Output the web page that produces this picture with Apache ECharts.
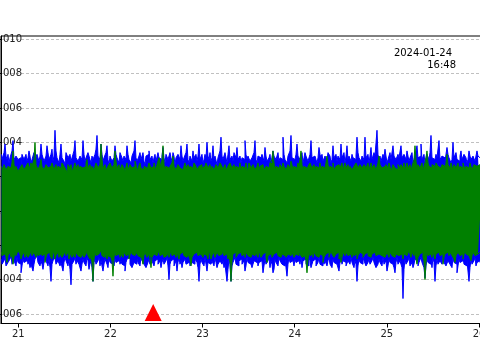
<!DOCTYPE html>
<html>
<head>
<meta charset="utf-8">
<script src="https://cdn.jsdelivr.net/npm/echarts@6/dist/echarts.min.js"></script>
<style>html,body{margin:0;padding:0;background:#fff;}#c{width:480px;height:360px;}</style>
</head>
<body>
<div id="c"></div>
<script>
// Envelope values, in units of 1e-4
const UNIT = 1e-4;
const BLUE_TOP = [
33,30,31,34,39,32,30,33,28,31,32,35,41,30,29,32,33,30,30,31,27,33,34,30,31,33,29,31,35,32,28,30,32,34,30,29,33,31,29,32,
39,33,31,29,28,32,38,34,30,31,33,36,29,32,47,35,31,30,28,33,39,31,32,29,27,34,34,31,30,33,29,30,33,35,41,31,30,29,28,32,
32,30,41,33,29,31,31,34,35,30,28,32,30,29,33,36,44,32,31,30,39,33,29,31,32,34,38,30,27,32,33,29,30,31,38,33,31,30,28,34,
34,31,29,32,31,30,38,33,30,29,28,32,33,35,41,31,29,30,32,34,30,31,34,29,27,32,31,33,35,30,30,32,28,31,33,29,29,34,31,30,
30,32,37,31,28,33,32,30,29,34,31,29,34,32,27,31,30,33,33,30,38,32,29,31,31,34,39,30,28,32,32,29,35,31,30,33,29,32,39,30,
31,33,28,30,33,31,40,32,30,34,29,31,38,30,32,33,27,31,31,35,43,32,30,29,34,31,28,33,38,30,31,32,29,34,33,31,37,30,30,32,
28,31,32,30,41,33,30,32,33,29,29,31,31,34,41,30,28,32,32,31,30,33,34,29,37,32,29,30,31,33,28,31,35,32,33,30,30,34,29,31,
32,30,43,33,30,31,28,32,33,35,44,31,31,30,29,33,39,32,32,30,30,34,28,31,34,32,31,29,29,33,41,31,30,32,33,30,28,31,37,33,
31,33,29,30,32,31,30,34,34,32,28,30,38,31,31,33,29,32,33,30,39,31,30,34,28,32,38,30,32,31,29,33,31,30,30,32,43,34,31,30,
29,32,33,30,43,31,30,33,28,32,37,30,31,34,32,31,47,33,30,32,29,30,33,31,36,32,28,30,31,34,30,31,38,32,32,30,29,33,31,32,
38,31,30,33,33,30,35,32,29,31,31,34,28,30,32,33,38,31,30,32,39,30,31,33,28,31,33,32,30,34,44,31,32,30,29,33,31,32,41,30,
30,32,33,31,29,30,37,33,31,32,28,30,40,31,32,34,30,31,29,32,35,30,31,33,33,31,28,30,35,32,30,31,32,33,29,30,35,32,31,33
];
const BLUE_BOTTOM = [
-28,-31,-30,-29,-27,-32,-31,-30,-29,-28,-26,-31,-30,-29,-28,-32,-27,-30,-29,-31,-36,-32,-28,-30,-30,-29,-27,-31,-29,-33,-31,-30,-35,-31,-28,-29,-26,-30,-30,-32,
-29,-31,-34,-30,-27,-29,-30,-32,-28,-33,-41,-31,-29,-30,-27,-31,-31,-29,-28,-32,-30,-31,-35,-30,-27,-29,-29,-32,-28,-34,-43,-31,-30,-29,-27,-31,-29,-30,-31,-32,
-35,-31,-28,-30,-30,-32,-27,-29,-34,-31,-29,-33,-41,-30,-28,-31,-30,-29,-27,-32,-29,-30,-35,-31,-28,-29,-31,-33,-27,-30,-30,-31,-29,-32,-28,-30,-31,-29,-27,-31,
-29,-31,-30,-32,-35,-30,-28,-29,-27,-31,-30,-33,-33,-30,-29,-31,-28,-30,-31,-32,-27,-29,-29,-31,-30,-33,-34,-30,-28,-31,-27,-29,-30,-32,-29,-30,-28,-31,-31,-29,
-33,-30,-28,-31,-30,-29,-27,-32,-40,-31,-29,-30,-28,-32,-31,-29,-35,-30,-27,-31,-29,-33,-30,-29,-28,-31,-31,-30,-27,-32,-33,-30,-29,-31,-28,-29,-30,-33,-41,-31,
-28,-30,-30,-32,-27,-31,-35,-30,-29,-31,-31,-29,-28,-32,-27,-30,-33,-31,-30,-29,-28,-31,-29,-33,-31,-30,-41,-34,-28,-31,-41,-32,-30,-29,-27,-31,-30,-32,-29,-30,
-28,-31,-31,-29,-35,-32,-27,-30,-29,-31,-30,-33,-31,-29,-28,-30,-27,-32,-30,-31,-29,-30,-36,-32,-28,-31,-30,-29,-27,-33,-29,-31,-36,-34,-28,-30,-31,-32,-27,-29,
-29,-31,-30,-32,-28,-33,-38,-31,-27,-30,-31,-29,-29,-32,-28,-30,-31,-29,-30,-31,-27,-33,-29,-30,-28,-31,-30,-32,-27,-29,-33,-31,-29,-30,-28,-32,-31,-30,-27,-31,
-30,-32,-28,-31,-29,-30,-32,-29,-27,-31,-30,-33,-28,-30,-29,-31,-31,-32,-35,-30,-27,-31,-29,-30,-30,-32,-32,-29,-28,-31,-27,-30,-30,-33,-29,-31,-41,-32,-28,-30,
-30,-31,-27,-29,-29,-32,-33,-30,-28,-31,-31,-29,-27,-30,-30,-33,-34,-31,-28,-30,-29,-32,-27,-31,-30,-29,-35,-32,-28,-30,-29,-31,-31,-33,-36,-30,-27,-31,-30,-29,
-29,-33,-51,-34,-28,-31,-30,-29,-27,-32,-31,-30,-33,-31,-28,-29,-29,-32,-30,-31,-27,-30,-31,-33,-39,-32,-28,-30,-30,-31,-29,-33,-27,-30,-41,-32,-28,-31,-30,-29,
-29,-31,-27,-30,-31,-32,-33,-29,-28,-31,-30,-33,-27,-30,-29,-31,-36,-32,-28,-30,-30,-29,-27,-31,-31,-32,-29,-30,-41,-33,-28,-31,-30,-29,-27,-32,-30,-31,-29,-30
];
const GREEN_TOP = [
26,25,24,27,28,24,23,26,27,25,25,28,35,27,24,26,26,23,22,25,25,27,27,24,23,26,26,28,24,25,28,26,25,30,40,27,26,24,24,27,
30,26,25,24,23,27,27,25,24,26,26,28,28,24,25,27,23,26,27,25,24,28,29,26,25,24,22,27,26,25,27,23,24,26,28,25,25,27,23,26,
27,25,24,26,26,28,30,25,25,27,23,26,27,24,26,28,29,25,24,27,39,30,25,26,27,24,23,26,26,28,28,25,24,27,35,29,25,26,27,24,
24,27,26,25,23,26,28,24,25,27,27,25,24,26,29,27,23,25,26,28,25,24,24,26,27,25,23,26,28,27,25,24,26,28,24,25,27,26,31,28,
25,30,38,27,24,26,27,25,23,26,26,28,32,26,25,24,24,27,27,25,26,24,23,26,28,25,25,27,24,26,27,25,25,28,29,26,24,25,26,27,
27,25,24,26,26,28,28,25,25,27,23,26,27,24,24,27,26,25,25,28,29,26,24,25,27,24,23,26,26,28,28,25,25,27,24,26,27,25,25,28,
24,26,27,25,26,28,23,25,28,27,25,24,27,26,24,25,26,28,23,26,25,27,28,24,24,26,26,25,25,28,27,30,35,28,24,26,26,25,23,27,
27,25,28,26,25,24,23,27,26,25,29,27,24,26,27,25,25,28,26,30,35,27,24,26,27,25,23,26,26,28,28,25,25,27,24,26,27,25,26,28,
24,26,27,25,25,28,32,27,24,26,26,25,28,24,23,26,25,27,27,25,26,28,24,26,28,25,25,27,23,26,27,24,24,26,26,28,28,25,25,27,
26,25,24,27,27,25,25,28,23,26,28,25,25,27,26,24,24,28,32,27,27,25,25,26,24,27,26,25,28,26,23,25,27,28,25,26,24,27,26,25,
27,26,25,28,24,26,28,25,26,27,23,26,27,30,38,29,25,27,27,25,26,28,24,26,28,31,35,28,26,25,25,27,27,26,24,28,29,26,26,25,
25,27,27,26,24,28,33,27,26,25,28,26,24,27,27,25,25,28,23,26,26,25,28,27,24,26,27,25,25,28,26,24,24,27,28,26,25,27,27,25
];
const GREEN_BOTTOM = [
-24,-26,-26,-25,-23,-27,-30,-26,-25,-24,-27,-25,-31,-27,-24,-26,-26,-23,-23,-25,-28,-26,-25,-24,-27,-25,-24,-27,-26,-25,-23,-26,-27,-24,-25,-27,-24,-26,-26,-25,
-23,-26,-27,-25,-30,-27,-25,-24,-24,-26,-26,-28,-23,-25,-28,-26,-25,-24,-27,-25,-24,-27,-26,-25,-23,-26,-25,-24,-28,-26,-24,-27,-26,-25,-27,-24,-23,-26,-25,-27,
-26,-25,-24,-27,-27,-25,-23,-26,-25,-28,-26,-30,-41,-28,-24,-26,-27,-25,-25,-24,-23,-26,-26,-27,-24,-25,-28,-26,-25,-27,-27,-29,-38,-27,-24,-26,-26,-25,-23,-27,
-25,-26,-27,-24,-24,-26,-26,-25,-28,-27,-23,-25,-25,-26,-27,-24,-24,-26,-26,-27,-25,-28,-31,-26,-24,-25,-27,-26,-25,-28,-33,-27,-26,-25,-24,-26,-27,-25,-23,-26,
-26,-25,-24,-27,-28,-26,-25,-24,-27,-25,-23,-26,-26,-25,-25,-27,-24,-26,-28,-25,-26,-24,-23,-26,-25,-27,-27,-25,-24,-28,-32,-27,-26,-25,-25,-24,-23,-26,-27,-25,
-25,-26,-27,-25,-24,-26,-26,-28,-23,-25,-28,-26,-25,-24,-27,-26,-24,-25,-26,-27,-25,-24,-23,-26,-27,-25,-24,-28,-26,-30,-41,-29,-25,-26,-24,-27,-27,-25,-26,-24,
-24,-26,-26,-25,-27,-24,-23,-26,-25,-27,-28,-25,-24,-26,-26,-24,-25,-27,-23,-25,-27,-26,-25,-24,-24,-27,-30,-26,-26,-25,-23,-27,-27,-25,-25,-24,-24,-26,-26,-27,
-27,-25,-25,-26,-23,-27,-28,-25,-24,-26,-26,-24,-25,-27,-27,-25,-24,-26,-23,-25,-26,-27,-28,-26,-25,-29,-36,-28,-24,-26,-26,-25,-27,-24,-23,-26,-25,-27,-26,-25,
-24,-26,-30,-27,-26,-25,-25,-24,-27,-26,-23,-25,-24,-27,-26,-25,-25,-24,-28,-26,-30,-27,-24,-25,-26,-24,-23,-26,-27,-25,-25,-27,-24,-26,-26,-25,-28,-26,-25,-24,
-23,-25,-27,-26,-25,-24,-24,-26,-26,-27,-28,-25,-25,-24,-23,-26,-27,-25,-24,-26,-26,-25,-25,-27,-28,-26,-24,-25,-27,-24,-23,-26,-25,-27,-26,-25,-24,-26,-27,-25,
-25,-26,-28,-25,-24,-26,-26,-27,-23,-25,-27,-24,-25,-26,-24,-28,-31,-27,-26,-25,-25,-24,-27,-29,-40,-30,-24,-26,-26,-25,-25,-27,-23,-26,-28,-25,-26,-24,-24,-26,
-27,-25,-31,-27,-25,-26,-24,-25,-26,-24,-23,-26,-27,-28,-30,-26,-25,-24,-24,-26,-26,-25,-28,-27,-23,-25,-25,-26,-27,-25,-29,-26,-24,-25,-26,-27,-25,-24,-24,-26
];
// sample times (day of January 2024), one sample per screen column
const T0 = 20.81763;
const DT = 0.010853;
const X_TICKS = [21, 22, 23, 24, 25, 26];
const EVENT_TIME = [22.464];
const EVENT_VALUE = [-0.00591];
const STAMP_DATE = '2024-01-24';
const STAMP_TIME = '16:48';

const X_MIN = 20.8122, X_MAX = 26.1194;
const Y_MIN = -0.006553, Y_MAX = 0.010192;

function toPairs(arr) { return arr.map((v, i) => [T0 + i * DT, v * UNIT]); }
function band(name, arr, color) {
  return {
    name: name, type: 'line', data: toPairs(arr), step: 'middle',
    showSymbol: false, symbol: 'none', silent: true, sampling: null,
    lineStyle: { color: color, width: 1 },
    itemStyle: { color: color },
    areaStyle: { color: color, opacity: 1 }
  };
}
const FONT = 'DejaVu Sans';
const chart = echarts.init(document.getElementById('c'), null, { renderer: 'canvas', width: 480, height: 360 });
chart.setOption({
  animation: false,
  backgroundColor: '#ffffff',
  grid: { left: 1, right: -10, top: 36, bottom: 36.5, show: true, borderColor: '#000', borderWidth: 1,
          backgroundColor: 'transparent', containLabel: false, outerBoundsMode: 'none' },
  xAxis: {
    type: 'value', min: X_MIN, max: X_MAX, splitNumber: 5,
    axisLine: { show: true, onZero: false, lineStyle: { color: '#000', width: 1 } },
    axisTick: { show: true, length: 4, lineStyle: { color: '#000' }, customValues: X_TICKS },
    axisLabel: { customValues: X_TICKS, formatter: v => String(Math.round(v)), margin: 6,
                 fontSize: 10, fontFamily: FONT, color: '#222' },
    splitLine: { show: false }
  },
  yAxis: {
    type: 'value', min: Y_MIN, max: Y_MAX, splitNumber: 8,
    axisLine: { show: true, onZero: false, lineStyle: { color: '#000', width: 1 } },
    axisTick: { show: true, length: 4, lineStyle: { color: '#000' } },
    axisLabel: { margin: -21, showMinLabel: false, showMaxLabel: false,
                 formatter: v => v.toFixed(3), fontSize: 10, fontFamily: FONT, color: '#222' },
    splitLine: { show: true, showMinLine: false, showMaxLine: false,
                 lineStyle: { color: '#b0b0b0', width: 0.8, type: [3, 2] } }
  },
  graphic: [
    { type: 'text', x: 452, y: 48.5, z: 100,
      style: { text: STAMP_DATE, font: '10px "DejaVu Sans"', fill: '#000', align: 'right', verticalAlign: 'top' } },
    { type: 'text', x: 456, y: 60.5, z: 100,
      style: { text: STAMP_TIME, font: '10px "DejaVu Sans"', fill: '#000', align: 'right', verticalAlign: 'top' } }
  ],
  series: [
    band('blue+', BLUE_TOP, '#0000ff'),
    band('blue-', BLUE_BOTTOM, '#0000ff'),
    band('green+', GREEN_TOP, '#008000'),
    band('green-', GREEN_BOTTOM, '#008000'),
    {
      name: 'event', type: 'scatter', symbol: 'triangle', symbolSize: [17, 17],
      data: EVENT_TIME.map((t, i) => [t, EVENT_VALUE[i]]),
      itemStyle: { color: '#ff0000', opacity: 1 }, silent: true, z: 5
    }
  ]
});
</script>
</body>
</html>
